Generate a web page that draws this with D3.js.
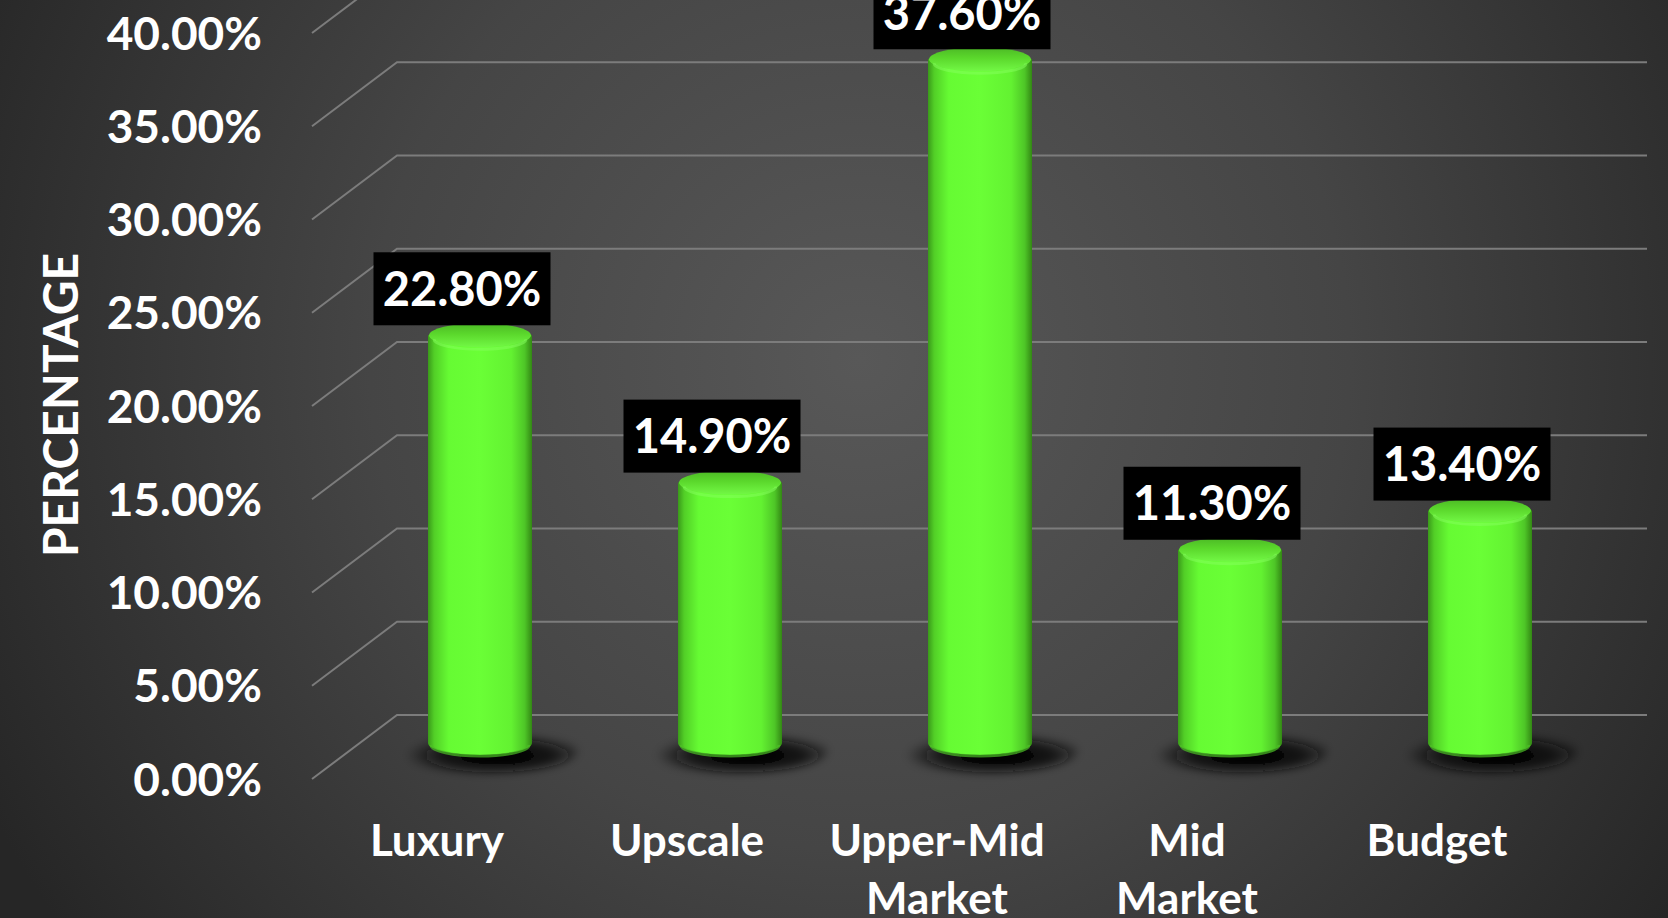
<!DOCTYPE html>
<html>
<head>
<meta charset="utf-8">
<script src="https://cdn.jsdelivr.net/npm/d3@7"></script>
<style>
  body { margin: 0; background: #2b2b2b; }
  svg { display: block; }
  text { font-family: Lato, "Open Sans", sans-serif; font-weight: 700; fill: #fff; }
</style>
</head>
<body>
<div id="root"></div>
<script>
// data
const categories = ['Luxury', 'Upscale', 'Upper-Mid Market', 'Mid Market', 'Budget']
const labelLines = [['Luxury'], ['Upscale'], ['Upper-Mid', 'Market'], ['Mid', 'Market'], ['Budget']]
const shares = [0.228, 0.149, 0.376, 0.113, 0.134]
const yTicks = [0, 0.05, 0.10, 0.15, 0.20, 0.25, 0.30, 0.35, 0.40]
const yTitle = 'PERCENTAGE'

const W = 1668, H = 918
// depth of the 3d floor: back wall is shifted by this much
const depthX = 85, depthY = -64

const svg = d3.select('#root')
  .append('svg')
  .attr('width', W)
  .attr('height', H)

const defs = svg.append('defs')

const bg = defs.append('radialGradient')
  .attr('id', 'bg')
  .attr('gradientUnits', 'userSpaceOnUse')
  .attr('cx', 860).attr('cy', 360).attr('r', 980)
bg.append('stop').attr('offset', 0).attr('stop-color', '#585858')
bg.append('stop').attr('offset', 0.5).attr('stop-color', '#454545')
bg.append('stop').attr('offset', 1).attr('stop-color', '#262626')

const body = defs.append('linearGradient').attr('id', 'body')
  .attr('x1', 0).attr('x2', 1).attr('y1', 0).attr('y2', 0)
;[[0, '#3a9a1a'], [0.06, '#52cf27'], [0.2, '#66fb33'], [0.5, '#6aff36'],
  [0.8, '#63f231'], [0.93, '#4ec627'], [1, '#338814']].forEach(s =>
  body.append('stop').attr('offset', s[0]).attr('stop-color', s[1]))

const cap = defs.append('linearGradient').attr('id', 'cap')
  .attr('x1', 0).attr('x2', 0).attr('y1', 0).attr('y2', 1)
cap.append('stop').attr('offset', 0).attr('stop-color', '#4cb925')
cap.append('stop').attr('offset', 0.45).attr('stop-color', '#5bd82c')
cap.append('stop').attr('offset', 1).attr('stop-color', '#72f845')

const shade = defs.append('radialGradient').attr('id', 'shade')
  .attr('cx', 0.56).attr('cy', 0.6).attr('r', 0.5)
shade.append('stop').attr('offset', 0).attr('stop-color', '#000').attr('stop-opacity', 1)
shade.append('stop').attr('offset', 0.6).attr('stop-color', '#0a0a0a').attr('stop-opacity', 0.9)
shade.append('stop').attr('offset', 1).attr('stop-color', '#111').attr('stop-opacity', 0)

const blur = defs.append('filter').attr('id', 'blur')
  .attr('x', '-50%').attr('y', '-100%').attr('width', '200%').attr('height', '300%')
blur.append('feGaussianBlur').attr('stdDeviation', 4)

svg.append('rect').attr('width', W).attr('height', H).attr('fill', 'url(#bg)')

const x = d3.scaleBand()
  .domain(categories)
  .range([312, 1562])

const y = d3.scaleLinear()
  .domain([0, 0.40])
  .range([779, 33])

const fmt = d3.format('.2%')

// gridlines: diagonal on the side wall, then straight along the back wall
const x0 = x.range()[0], x1 = x.range()[1]
svg.append('g')
  .selectAll('path')
  .data(yTicks)
  .enter()
  .append('path')
  .attr('d', d => `M${x0},${y(d)}L${x0 + depthX},${y(d) + depthY}L${x1 + depthX},${y(d) + depthY}`)
  .attr('fill', 'none')
  .attr('stroke', '#7c7c7c')
  .attr('stroke-width', 2)

// y axis labels
svg.append('g')
  .selectAll('text')
  .data(yTicks)
  .enter()
  .append('text')
  .attr('x', 262)
  .attr('y', d => y(d))
  .attr('dy', '0.36em')
  .attr('text-anchor', 'end')
  .style('font-size', '46px')
  .text(d => fmt(d))

svg.append('text')
  .attr('transform', 'translate(61,405) rotate(-90)')
  .attr('text-anchor', 'middle')
  .attr('dy', '0.36em')
  .style('font-size', '48px')
  .text(yTitle)

// category labels on the front edge
const xl = svg.append('g')
  .selectAll('text')
  .data(categories)
  .enter()
  .append('text')
  .attr('text-anchor', 'middle')
  .style('font-size', '44px')
xl.selectAll('tspan')
  .data((d, i) => labelLines[i])
  .enter()
  .append('tspan')
  .attr('x', function() { const c = d3.select(this.parentNode).datum(); return x(c) + x.bandwidth() / 2 })
  .attr('y', (d, i) => 856 + i * 58)
  .text(d => d)

// cylinders
const rx = 52, ry = 12
const barDx = depthX / 2 + 0.5
const cx = c => x(c) + x.bandwidth() / 2 + barDx
const topY = v => y(v) - 18.5
const botY = y(0) - 36

const bars = svg.append('g')
  .selectAll('g')
  .data(categories)
  .enter()
  .append('g')

bars.append('ellipse')
  .attr('cx', d => cx(d) + 6)
  .attr('cy', botY + 8)
  .attr('rx', 92)
  .attr('ry', 22)
  .attr('fill', 'url(#shade)')
  .attr('filter', 'url(#blur)')

bars.append('path')
  .attr('d', (d, i) => {
    const l = cx(d) - rx, r = cx(d) + rx, t = topY(shares[i])
    return `M${l},${t}L${l},${botY}A${rx},${ry} 0 0 0 ${r},${botY}L${r},${t}Z`
  })
  .attr('fill', 'url(#body)')

// darker rim along the bottom
bars.append('path')
  .attr('d', d => `M${cx(d) - rx + 3},${botY + 2}A${rx - 3},${ry - 1} 0 0 0 ${cx(d) + rx - 3},${botY + 2}`)
  .attr('fill', 'none')
  .attr('stroke', '#4bbf25')
  .attr('stroke-width', 3)
  .attr('opacity', 0.7)

bars.append('ellipse')
  .attr('cx', d => cx(d))
  .attr('cy', (d, i) => topY(shares[i]))
  .attr('rx', rx - 1)
  .attr('ry', ry)
  .attr('fill', 'url(#cap)')

bars.append('path')
  .attr('d', (d, i) => {
    const t = topY(shares[i]) + 4
    return `M${cx(d) - rx + 6},${t}A${rx - 6},${ry - 2} 0 0 0 ${cx(d) + rx - 6},${t}`
  })
  .attr('fill', 'none')
  .attr('stroke', '#86ff5e')
  .attr('stroke-width', 3)
  .attr('opacity', 0.5)

// value labels in black boxes
const boxW = 177, boxH = 73
const labels = svg.append('g')
  .selectAll('g')
  .data(categories)
  .enter()
  .append('g')
  .attr('transform', (d, i) => `translate(${cx(d) - 18},${topY(shares[i]) - 10 - boxH / 2})`)

labels.append('rect')
  .attr('x', -boxW / 2)
  .attr('y', -boxH / 2)
  .attr('width', boxW)
  .attr('height', boxH)
  .attr('fill', '#000')

labels.append('text')
  .attr('text-anchor', 'middle')
  .attr('dy', '0.36em')
  .style('font-size', '47px')
  .text((d, i) => fmt(shares[i]))
</script>
</body>
</html>
